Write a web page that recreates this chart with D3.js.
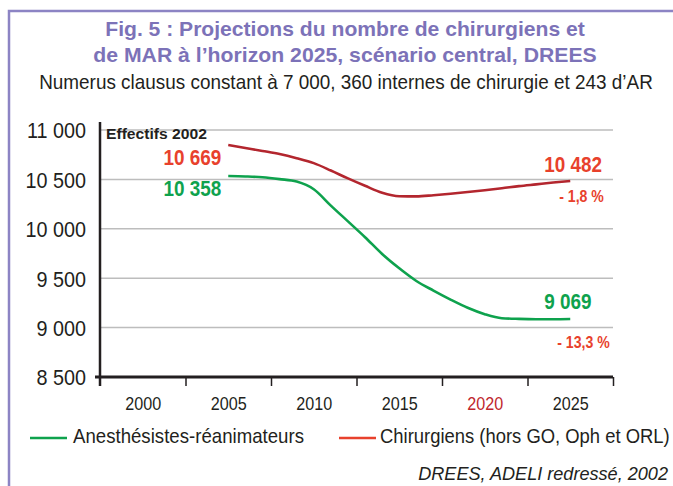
<!DOCTYPE html>
<html>
<head>
<meta charset="utf-8">
<script src="https://cdn.jsdelivr.net/npm/d3@7"></script>
<style>
  body { margin: 0; background: #fff; }
  text { font-family: "Liberation Sans", Arial, sans-serif; }
</style>
</head>
<body>
<div id="chart"></div>
<script>
var width = 673,
    height = 486;

// data
var years = [2005, 2006, 2007, 2008, 2009, 2010, 2011, 2012, 2013, 2014, 2015,
             2016, 2017, 2018, 2019, 2020, 2021, 2022, 2023, 2024, 2025];
var chirurgiens = [10848, 10818, 10788, 10757, 10715, 10665, 10590, 10510, 10435, 10365, 10330,
                   10328, 10340, 10355, 10372, 10390, 10410, 10432, 10450, 10468, 10484];
var anesthesistes = [10534, 10530, 10522, 10503, 10478, 10400, 10235, 10075, 9915, 9745, 9600,
                     9472, 9375, 9284, 9201, 9136, 9095, 9088, 9085, 9085, 9087];
var yTicks = [8500, 9000, 9500, 10000, 10500, 11000];
var xTickYears = [2000, 2005, 2010, 2015, 2020, 2025];
var xTickLabels = ["2000", "2005", "2010", "2015", "2020", "2025"];
var startLabels = ["10 669", "10 358"];   // chirurgiens, anesthesistes
var endLabels = ["10 482", "9 069"];
var pctLabels = ["- 1,8 %", "- 13,3 %"];
var seriesNames = ["Anesthésistes-réanimateurs", "Chirurgiens (hors GO, Oph et ORL)"];

var purple = "#7c72b8",
    ink = "#231f20",
    redLine = "#b3262e",
    redText = "#e8412c",
    green = "#0ea24d";

var svg = d3.select('#chart').append('svg')
  .attr('width', width)
  .attr('height', height);

// squeeze text horizontally (the original uses a condensed face)
function squeeze(sel, sx) {
  sel.each(function() {
    var t = d3.select(this);
    var x0 = +t.attr("x") || 0;
    t.attr("x", x0 / sx).attr("transform", "scale(" + sx + ",1)");
  });
  return sel;
}
// squeeze text to a given width
function fit(sel, w) {
  var sx = w / sel.node().getComputedTextLength();
  return squeeze(sel, sx);
}

// frame
svg.append("path")
  .attr("d", "M9," + height + "V11H" + width)
  .attr("fill", "none")
  .attr("stroke", "#8c84c4")
  .attr("stroke-width", 2.5);

// titles
fit(svg.append("text").attr("x", 345).attr("y", 36)
  .attr("text-anchor", "middle").attr("fill", purple)
  .attr("font-weight", "bold").attr("font-size", 20)
  .text("Fig. 5 : Projections du nombre de chirurgiens et"), 480);
fit(svg.append("text").attr("x", 345).attr("y", 62)
  .attr("text-anchor", "middle").attr("fill", purple)
  .attr("font-weight", "bold").attr("font-size", 20)
  .text("de MAR à l’horizon 2025, scénario central, DREES"), 504);
fit(svg.append("text").attr("x", 346).attr("y", 89)
  .attr("text-anchor", "middle").attr("fill", ink)
  .attr("font-size", 20)
  .text("Numerus clausus constant à 7 000, 360 internes de chirurgie et 243 d’AR"), 614);

// scales
var x = d3.scaleLinear().domain([1997.5, 2027.5]).range([100, 613]);
var y = d3.scaleLinear().domain([8500, 11000]).range([377, 130]);

var fmt = d3.formatLocale({decimal: ",", thousands: " ", grouping: [3], currency: ["", ""]}).format(",");

// gridlines
svg.append("g").selectAll("line").data(yTicks.slice(1)).enter().append("line")
  .attr("x1", x.range()[0]).attr("x2", x.range()[1])
  .attr("y1", d => y(d)).attr("y2", d => y(d))
  .attr("stroke", "#bdbdbd").attr("stroke-width", 1.5);

// y axis
var axisY = d3.axisLeft(y).tickValues(yTicks).tickFormat(fmt).tickSize(0).tickPadding(14);
var gy = svg.append("g").attr("transform", "translate(" + x.range()[0] + ",0)").call(axisY);
gy.select(".domain").remove();
squeeze(gy.selectAll("text").attr("font-family", null).attr("font-size", 22)
  .attr("fill", ink).attr("dy", "0.36em"), 0.9);
svg.append("line")
  .attr("x1", x.range()[0]).attr("x2", x.range()[0])
  .attr("y1", y.range()[1] - 8).attr("y2", y.range()[0] + 9)
  .attr("stroke", ink).attr("stroke-width", 2.5);

// x axis: tick marks between the year labels
var bandEdges = xTickYears.map(d => d + 2.5);
var axisXTicks = d3.axisBottom(x).tickValues(bandEdges).tickFormat("").tickSize(9).tickSizeOuter(0);
var gx = svg.append("g").attr("transform", "translate(0," + y.range()[0] + ")").call(axisXTicks);
gx.select(".domain").remove();
gx.selectAll("line").attr("stroke", ink).attr("stroke-width", 1.5);
svg.append("line")
  .attr("x1", x.range()[0] - 5).attr("x2", x.range()[1])
  .attr("y1", y.range()[0]).attr("y2", y.range()[0])
  .attr("stroke", ink).attr("stroke-width", 3);

var axisXLabels = d3.axisBottom(x).tickValues(xTickYears)
  .tickFormat((d, i) => xTickLabels[i]).tickSize(0).tickPadding(20);
var gxl = svg.append("g").attr("transform", "translate(0," + y.range()[0] + ")").call(axisXLabels);
gxl.select(".domain").remove();
squeeze(gxl.selectAll("text").attr("font-family", null).attr("font-size", 19)
  .attr("fill", d => d == 2020 ? "#c0272d" : ink), 0.85);

// lines
var lineFunc = d3.line()
  .x((d, i) => x(years[i]))
  .y(d => y(d))
  .curve(d3.curveMonotoneX);

svg.append("path").datum(anesthesistes)
  .attr("d", lineFunc).attr("fill", "none")
  .attr("stroke", green).attr("stroke-width", 2.6);
svg.append("path").datum(chirurgiens)
  .attr("d", lineFunc).attr("fill", "none")
  .attr("stroke", redLine).attr("stroke-width", 2.6);

// annotations
fit(svg.append("text").attr("x", x.range()[0] + 6).attr("y", y(11000) + 9)
  .attr("font-weight", "bold").attr("font-size", 15).attr("fill", ink)
  .text("Effectifs 2002"), 101);

var first = 0, last = years.length - 1;
var series = [
  {values: chirurgiens, color: redText, i: 0, endDy: -9, pctDx: -11, pctDy: 21},
  {values: anesthesistes, color: green, i: 1, endDy: -10, pctDx: -13, pctDy: 29}
];
series.forEach(s => {
  squeeze(svg.append("text")
    .attr("x", x(years[first]) - 7).attr("y", y(s.values[first]) + 20)
    .attr("text-anchor", "end").attr("font-weight", "bold").attr("font-size", 22)
    .attr("fill", s.color).text(startLabels[s.i]), 0.86);
  squeeze(svg.append("text")
    .attr("x", x(years[last]) - 26).attr("y", y(s.values[last]) + s.endDy)
    .attr("font-weight", "bold").attr("font-size", 22)
    .attr("fill", s.color).text(endLabels[s.i]), 0.86);
  squeeze(svg.append("text")
    .attr("x", x(years[last]) + s.pctDx).attr("y", y(s.values[last]) + s.pctDy)
    .attr("font-weight", "bold").attr("font-size", 16)
    .attr("fill", redText).text(pctLabels[s.i]), 0.88);
});

// legend
var legend = svg.append("g").attr("class", "legend");
var legendItems = [
  {x: 30, color: green, w: 231, tx: 73},
  {x: 339, color: redText, w: 290, tx: 380}
];
legendItems.forEach((d, i) => {
  legend.append("line")
    .attr("x1", d.x).attr("x2", d.x + 37).attr("y1", 438).attr("y2", 438)
    .attr("stroke", d.color).attr("stroke-width", 2.6);
  fit(legend.append("text")
    .attr("x", d.tx).attr("y", 443)
    .attr("font-size", 20).attr("fill", ink)
    .text(seriesNames[i]), d.w);
});

// source
fit(svg.append("text").attr("x", 668).attr("y", 480)
  .attr("text-anchor", "end").attr("font-style", "italic")
  .attr("font-size", 19).attr("fill", ink)
  .text("DREES, ADELI redressé, 2002"), 250);
</script>
</body>
</html>
